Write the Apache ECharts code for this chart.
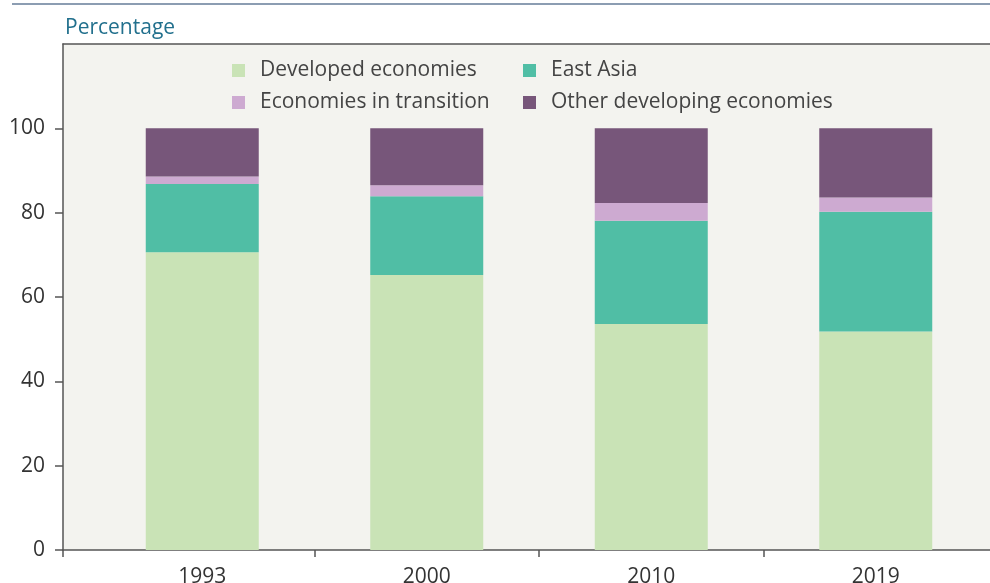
<!DOCTYPE html>
<html>
<head>
<meta charset="utf-8">
<script src="https://cdn.jsdelivr.net/npm/echarts@6/dist/echarts.min.js"></script>
<style>
html, body {margin: 0; padding: 0; background: #fff;}
#main {width: 990px; height: 583px;}
</style>
</head>
<body>
<div id="main"></div>
<script>
// 年份
var years = ['1993', '2000', '2010', '2019'];
// 各组占比 (%)
var developed = [70.6, 65.2, 53.6, 51.8];
var eastAsia = [16.2, 18.7, 24.5, 28.4];
var transition = [1.8, 2.6, 4.2, 3.4];
var otherDev = [11.4, 13.5, 17.7, 16.4];
var yTicks = [0, 20, 40, 60, 80, 100];

var fontName = 'Open Sans';

function barSeries(name, arr, color) {
    return {
        name: name, type: 'bar', stack: 'total', barWidth: 113,
        xAxisIndex: 2, yAxisIndex: 1,
        itemStyle: {color: color},
        emphasis: {disabled: true},
        data: arr
    };
}

// 背景网格上的刻度位置 (类目边界)
var bgMin = -0.6212, bgMax = 3.51;

option = {
    animation: false,
    textStyle: {fontFamily: fontName},
    title: {
        text: 'Percentage', left: 60, top: 13,
        textStyle: {fontSize: 21, fontWeight: 'normal', color: '#22708d', fontFamily: fontName}
    },
    graphic: [{
        type: 'line', shape: {x1: 12, y1: 4, x2: 990, y2: 4},
        style: {stroke: '#8c9db2', lineWidth: 2}
    }],
    legend: [{
        data: ['Developed economies', 'Economies in transition'],
        orient: 'vertical', left: 227, top: 55, itemGap: 11,
        itemWidth: 13, itemHeight: 13, icon: 'rect',
        textStyle: {fontSize: 21, color: '#444', padding: [0, 0, 0, 10]}
    }, {
        data: ['East Asia', 'Other developing economies'],
        orient: 'vertical', left: 518, top: 55, itemGap: 11,
        itemWidth: 13, itemHeight: 13, icon: 'rect',
        textStyle: {fontSize: 21, color: '#444', padding: [0, 0, 0, 10]}
    }],
    grid: [{
        left: 63, right: 0, top: 44, bottom: 33, outerBoundsMode: 'none',
        show: true, backgroundColor: '#f3f3ef', borderWidth: 0
    }, {
        left: 90, right: 2, top: 44, bottom: 33, outerBoundsMode: 'none'
    }],
    xAxis: [{
        gridIndex: 0, type: 'value', min: bgMin, max: bgMax,
        splitLine: {show: false},
        axisLine: {show: true, onZero: false, lineStyle: {color: '#555', width: 1.5}},
        axisTick: {show: true, length: 7, lineStyle: {color: '#555', width: 1.5},
            customValues: [bgMin, 0.5, 1.5, 2.5]},
        axisLabel: {show: false}
    }, {
        gridIndex: 0, type: 'value', position: 'top', min: bgMin, max: bgMax,
        splitLine: {show: false},
        axisLine: {show: true, onZero: false, lineStyle: {color: '#555', width: 1.5}},
        axisTick: {show: false}, axisLabel: {show: false}
    }, {
        gridIndex: 1, type: 'category', data: years,
        axisLine: {show: false}, axisTick: {show: false},
        axisLabel: {margin: 17, fontSize: 21, color: '#333'}
    }],
    yAxis: [{
        gridIndex: 0, type: 'value', min: 0, max: 120,
        splitLine: {show: false},
        axisLine: {show: true, onZero: false, lineStyle: {color: '#555', width: 1.5}},
        axisTick: {show: true, length: 8, lineStyle: {color: '#555', width: 1.5}, customValues: yTicks},
        axisLabel: {customValues: yTicks, margin: 18, fontSize: 21, color: '#333'}
    }, {
        gridIndex: 1, type: 'value', min: 0, max: 120, show: false
    }],
    series: [
        barSeries('Developed economies', developed, '#c9e3b6'),
        barSeries('East Asia', eastAsia, '#50bea5'),
        barSeries('Economies in transition', transition, '#cdaad1'),
        barSeries('Other developing economies', otherDev, '#77567a')
    ]
};

var myChart = echarts.init(document.getElementById('main'));
myChart.setOption(option);
</script>
</body>
</html>
